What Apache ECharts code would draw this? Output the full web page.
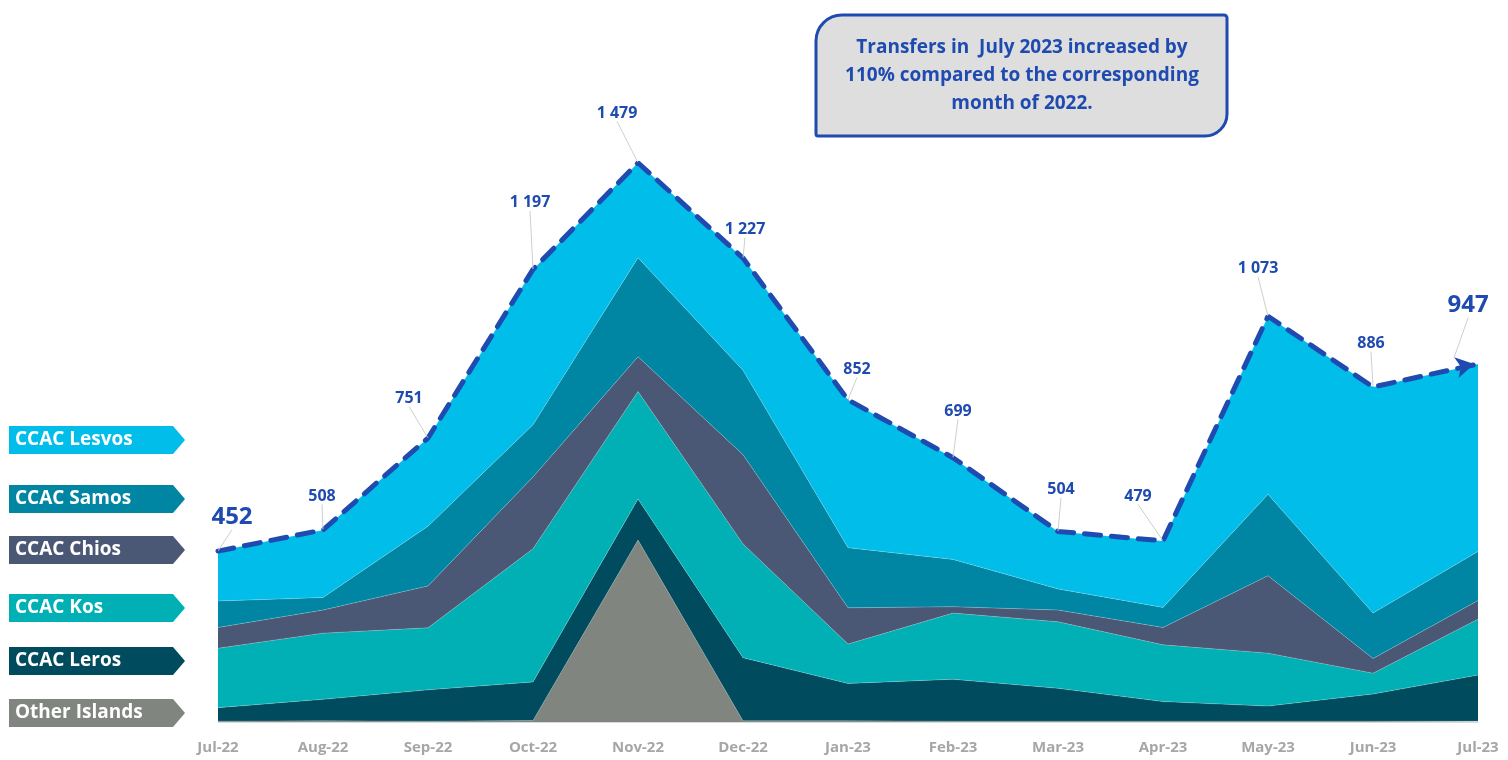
<!DOCTYPE html>
<html>
<head>
<meta charset="utf-8">
<script src="https://cdn.jsdelivr.net/npm/echarts@6/dist/echarts.min.js"></script>
<style>
html,body{margin:0;padding:0;background:#fff;}
#chart{width:1508px;height:760px;}
</style>
</head>
<body>
<div id="chart"></div>
<script>
const categories = ['Jul-22','Aug-22','Sep-22','Oct-22','Nov-22','Dec-22','Jan-23','Feb-23','Mar-23','Apr-23','May-23','Jun-23','Jul-23'];
const otherIslands = [2,3,2,4,481,3,3,2,2,2,2,2,2];
const leros  = [36,57,83,102,109,167,99,111,87,52,40,72,122];
const kos    = [157,175,164,352,284,301,104,175,176,150,140,55,148];
const chios  = [55,61,111,190,92,236,96,17,31,46,205,39,49];
const samos  = [70,33,158,138,262,223,159,125,56,53,215,120,130];
const lesvos = [132,179,233,411,251,297,391,269,152,176,471,598,496];
const totals = [452,508,751,1197,1479,1227,852,699,504,479,1073,886,947];
const seriesNames = ['Other Islands','CCAC Leros','CCAC Kos','CCAC Chios','CCAC Samos','CCAC Lesvos'];
const noteLines = ['Transfers in  July 2023 increased by','110% compared to the corresponding','month of 2022.'];

// styles
const colors = ['#80857f','#004c5e','#00b0b5','#4a5875','#0085a3','#00bde9'];
const labelShift = [[14,-17],[-1,-21],[-19,-27],[-3,-54],[-21,-37],[2,-16],[9,-18],[5,-34],[3,-29],[-25,-32],[-10,-35],[-2,-31],[3,-32]];
const FONT = '"Open Sans", Lato, sans-serif';
const BLUE = '#1f4bb0';

const fmt = v => String(v).replace(/\B(?=(\d{3})+(?!\d))/g, ' ');

const layers = [otherIslands, leros, kos, chios, samos, lesvos];
const series = layers.map((arr, i) => ({
  name: seriesNames[i],
  type: 'line',
  stack: 'total',
  data: arr,
  symbol: 'none',
  lineStyle: {width: 0.6, color: 'rgba(255,255,255,0.35)'},
  areaStyle: {color: colors[i], opacity: 1},
  itemStyle: {color: colors[i]},
  silent: true,
  z: 2
}));

const last = totals.length - 1;
series.push({
  name: 'Total',
  type: 'line',
  data: totals.map((v, i) => {
    const big = (i === 0 || i === last);
    const item = {value: v, label: {fontSize: big ? 24 : 16}};
    if (i === last) {
      item.symbol = 'arrow';
      item.symbolSize = [16, 18];
      item.symbolRotate = -78;
      item.symbolOffset = [-4, 0];
    }
    return item;
  }),
  symbol: 'circle',
  symbolSize: 1,
  showSymbol: true,
  lineStyle: {color: BLUE, width: 5, type: [16, 11], cap: 'round'},
  itemStyle: {color: BLUE},
  label: {
    show: true,
    position: 'top',
    distance: 4,
    color: BLUE,
    fontWeight: 'bold',
    fontFamily: FONT,
    formatter: p => fmt(p.value)
  },
  labelLine: {show: true, lineStyle: {color: '#cfcfcf', width: 1}},
  labelLayout: p => ({dx: labelShift[p.dataIndex][0], dy: labelShift[p.dataIndex][1]}),
  z: 5
});

// legend tags
const tagY = [426, 485, 536, 594, 647, 699];
const graphics = [];
[5,4,3,2,1,0].forEach((si, k) => {
  const y = tagY[k];
  graphics.push({
    type: 'polygon',
    shape: {points: [[9, y], [173, y], [185, y + 14], [173, y + 28], [9, y + 28]]},
    style: {fill: colors[si]},
    silent: true
  });
  graphics.push({
    type: 'text',
    x: 15, y: y + 14,
    style: {text: seriesNames[si], fill: '#fff', font: 'bold 19px ' + FONT, verticalAlign: 'middle'},
    silent: true
  });
});

// note box
graphics.push({
  type: 'rect',
  shape: {x: 816, y: 15, width: 411, height: 121, r: [26, 3, 22, 2]},
  style: {fill: '#dedede', stroke: BLUE, lineWidth: 3},
  silent: true
});
noteLines.forEach((t, i) => {
  graphics.push({
    type: 'text',
    x: 1022, y: 48 + i * 28,
    style: {text: t, fill: BLUE, font: 'bold 19px ' + FONT, align: 'center', verticalAlign: 'middle'},
    silent: true
  });
});

const chart = echarts.init(document.getElementById('chart'));
chart.setOption({
  animation: false,
  backgroundColor: '#fff',
  grid: {left: 218, right: 30, top: 117, bottom: 38, containLabel: false},
  xAxis: {
    type: 'category',
    data: categories,
    boundaryGap: false,
    axisLine: {show: true, lineStyle: {color: '#d9d9d9', width: 1}},
    axisTick: {show: false},
    axisLabel: {color: '#a6a6a6', fontWeight: 'bold', fontSize: 15, fontFamily: FONT, margin: 18, interval: 0}
  },
  yAxis: {type: 'value', min: 0, max: 1600, show: false, splitLine: {show: false}},
  series: series,
  graphic: graphics
});
</script>
</body>
</html>
